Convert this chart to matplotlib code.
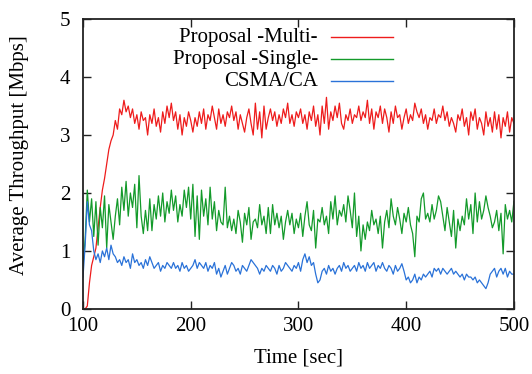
import numpy as np
import matplotlib
matplotlib.use("Agg")
import matplotlib.pyplot as plt

# time axis (sec), one sample every 2 s
time_sec = np.arange(100, 501, 2)

multi = [
    0.0, 0.0, 0.05, 0.45, 0.75, 0.9, 1.05, 1.4, 1.75, 2.05,
    2.25, 2.5, 2.75, 2.9, 3.0, 3.25, 3.1, 3.45, 3.35, 3.6,
    3.4, 3.5, 3.3, 3.45, 3.2, 3.35, 3.1, 3.4, 3.25, 3.3,
    3.0, 3.35, 3.2, 3.45, 3.15, 3.3, 3.05, 3.4, 3.2, 3.5,
    3.3, 3.55, 3.25, 3.4, 3.1, 3.35, 3.0, 3.3, 3.15, 3.4,
    3.25, 3.05, 3.3, 3.15, 3.4, 3.2, 3.45, 3.1, 3.35, 3.25,
    3.5, 3.3, 3.1, 3.45, 3.2, 3.35, 3.15, 3.4, 3.3, 3.5,
    3.25, 3.4, 3.1, 3.35, 3.2, 3.05, 3.3, 3.45, 3.2, 3.0,
    3.55, 3.1, 3.4, 2.95, 3.5, 3.1, 3.3, 3.45, 3.25, 3.4,
    3.15, 3.35, 3.2, 3.45, 3.3, 3.55, 3.2, 3.35, 3.15, 3.4,
    3.3, 3.45, 3.2, 3.35, 3.1, 3.4, 3.25, 3.5, 3.15, 3.35,
    3.0, 3.5, 3.2, 3.65, 3.1, 3.4, 3.25, 3.5, 3.3, 3.55,
    3.2, 3.1, 3.35, 3.25, 3.45, 3.2, 3.35, 3.3, 3.5, 3.25,
    3.4, 3.3, 3.6, 3.2, 3.45, 3.1, 3.4, 3.3, 3.5, 3.2,
    3.45, 3.3, 3.05, 3.4, 3.2, 3.5, 3.3, 3.35, 3.1, 3.3,
    3.45, 3.2, 3.35, 3.25, 3.55, 3.4, 3.3, 3.45, 3.2, 3.35,
    3.1, 3.3, 3.25, 3.45, 3.2, 3.35, 3.3, 3.5, 3.25, 3.4,
    3.15, 3.3, 3.2, 3.05, 3.35, 3.25, 3.45, 3.15, 3.3, 3.0,
    3.4, 3.25, 3.45, 3.1, 3.3, 3.2, 3.0, 3.4, 3.15, 3.3,
    3.05, 3.4, 3.1, 3.35, 2.95, 3.3, 3.15, 3.4, 3.05, 3.3,
    3.2,
]

single = [
    0.75, 1.2, 2.05, 1.5, 1.9, 1.25, 1.85, 1.1, 1.75, 1.4,
    1.95, 1.05, 1.8, 1.5, 1.2, 1.6, 1.9, 1.45, 2.1, 1.7,
    2.2, 1.6, 2.0, 1.75, 2.15, 1.4, 2.3, 1.6, 1.3, 1.7,
    1.35, 1.9, 1.35, 1.8, 1.55, 1.95, 1.6, 2.0, 1.5, 1.85,
    1.65, 2.05, 1.7, 1.95, 1.5, 1.8, 1.6, 2.05, 1.75, 2.1,
    1.55, 2.15, 1.25, 1.95, 1.2, 2.05, 1.6, 1.9, 1.45, 2.1,
    1.55, 1.85, 1.35, 1.7, 1.5, 1.45, 2.1, 1.4, 1.6, 1.35,
    1.55, 1.3, 1.7, 1.5, 1.15, 1.65, 1.45, 1.75, 1.2, 1.5,
    1.55, 1.4, 1.8, 1.45, 1.6, 1.3, 1.75, 1.3, 1.8, 1.45,
    1.65, 1.4, 1.6, 1.2, 1.5, 1.7, 1.45, 1.65, 1.3, 1.55,
    1.4, 1.65, 1.25, 1.6, 1.85, 1.45, 1.35, 1.7, 1.05, 1.55,
    1.5, 1.75, 1.45, 1.6, 1.3, 1.85, 1.55, 1.95, 1.45, 1.7,
    1.6, 1.8, 1.5, 1.95, 1.7, 1.4, 2.0, 1.25, 1.6, 1.0,
    1.45, 1.2, 1.5, 1.35, 1.7, 1.45, 1.55, 1.3, 1.6, 1.05,
    1.5, 1.7, 1.4, 1.9, 1.6, 1.45, 1.75, 1.55, 1.3, 1.65,
    1.5, 1.75, 1.45, 1.3, 0.9, 1.6, 1.5, 1.9, 2.0, 1.55,
    1.65, 1.5, 1.8, 1.55, 1.7, 1.95, 1.85, 1.6, 1.35, 1.75,
    1.5, 1.25, 1.7, 1.05, 1.55, 1.35, 1.6, 1.45, 1.9, 1.55,
    1.8, 1.3, 2.0, 1.5, 1.85, 1.55, 1.7, 1.95, 1.75, 1.6,
    1.4, 1.5, 1.7, 1.35, 1.65, 0.95, 1.8, 1.55, 1.7, 1.5,
    1.85,
]

csma = [
    0.55, 1.1, 1.85, 1.45, 1.35, 1.0, 0.85, 0.95, 0.8, 1.0,
    0.9, 1.05, 0.85, 1.1, 0.95, 0.9, 0.8, 0.85, 0.75, 0.9,
    0.8, 0.85, 0.7, 0.95, 0.8, 0.85, 0.75, 0.8, 0.7, 0.85,
    0.75, 0.9, 0.8, 0.7, 0.75, 0.8, 0.65, 0.75, 0.7, 0.8,
    0.75, 0.7, 0.8, 0.7, 0.75, 0.65, 0.8, 0.7, 0.75, 0.65,
    0.7, 0.75, 0.85, 0.7, 0.8, 0.75, 0.7, 0.8, 0.65, 0.75,
    0.7, 0.8, 0.6, 0.7, 0.55, 0.65, 0.75, 0.6, 0.7, 0.8,
    0.75, 0.65, 0.7, 0.6, 0.75, 0.7, 0.65, 0.75, 0.85, 0.8,
    0.75, 0.7, 0.6, 0.7, 0.65, 0.75, 0.7, 0.65, 0.75, 0.7,
    0.6, 0.75, 0.65, 0.7, 0.8, 0.75, 0.7, 0.65, 0.75, 0.7,
    0.8, 0.65, 0.85, 0.95, 0.8, 0.9, 0.75, 0.8, 0.6, 0.45,
    0.5, 0.65, 0.7, 0.6, 0.75, 0.65, 0.7, 0.6, 0.7, 0.75,
    0.65, 0.8, 0.7, 0.75, 0.65, 0.7, 0.75, 0.65, 0.8, 0.7,
    0.75, 0.65, 0.8, 0.7, 0.75, 0.8, 0.65, 0.75, 0.7, 0.8,
    0.7, 0.65, 0.75, 0.7, 0.6, 0.75, 0.65, 0.7, 0.78, 0.65,
    0.5, 0.55, 0.45, 0.5, 0.6, 0.45, 0.55, 0.5, 0.6, 0.55,
    0.6, 0.65, 0.55, 0.7, 0.65, 0.7, 0.6, 0.7, 0.65, 0.6,
    0.65, 0.7, 0.6, 0.65, 0.6, 0.55, 0.6, 0.5, 0.6, 0.55,
    0.55, 0.5, 0.55, 0.45, 0.5, 0.45, 0.4, 0.35, 0.45, 0.6,
    0.65, 0.7, 0.55, 0.65, 0.7, 0.6, 0.7, 0.55, 0.65, 0.6,
    0.6,
]

labels = ["Proposal -Multi-", "Proposal -Single-", "CSMA/CA"]
colors = ["#ee1c1c", "#139a2a", "#2a72d8"]
series = [multi, single, csma]

x_ticks = [100, 200, 300, 400, 500]
y_ticks = [0, 1, 2, 3, 4, 5]

plt.rcParams["font.family"] = ["Liberation Serif", "DejaVu Serif"]

fig = plt.figure(figsize=(5.32, 3.74), dpi=100)
ax = fig.add_axes([0.156, 0.174, 0.81, 0.775])

for vals, col in zip(series, colors):
    ax.plot(time_sec, vals, color=col, lw=0.9)

ax.set_xlim(100, 500)
ax.set_ylim(0, 5)
ax.set_xticks(x_ticks)
ax.set_yticks(y_ticks)
ax.tick_params(direction="in", top=True, right=True, length=6, width=1.0,
               labelsize=15, color="#222222")
ax.tick_params(axis="x", pad=6)
ax.tick_params(axis="y", pad=9)
for s in ax.spines.values():
    s.set_linewidth(1.3)
    s.set_color("#222222")

ax.set_xlabel("Time [sec]", fontsize=15, labelpad=9)
ax.set_ylabel("Average Throughput [Mbps]", fontsize=15)
ax.yaxis.set_label_coords(-0.125, 0.53)

# key (right-aligned labels with line samples on the right)
ys = [0.938, 0.862, 0.786]
for lab, col, yy in zip(labels, colors, ys):
    ax.text(0.545, yy, lab, transform=ax.transAxes, ha="right", va="center",
            fontsize=15)
    ax.plot([0.575, 0.719], [yy, yy], transform=ax.transAxes, color=col,
            lw=1.0)

fig.savefig("out.png", dpi=100)
